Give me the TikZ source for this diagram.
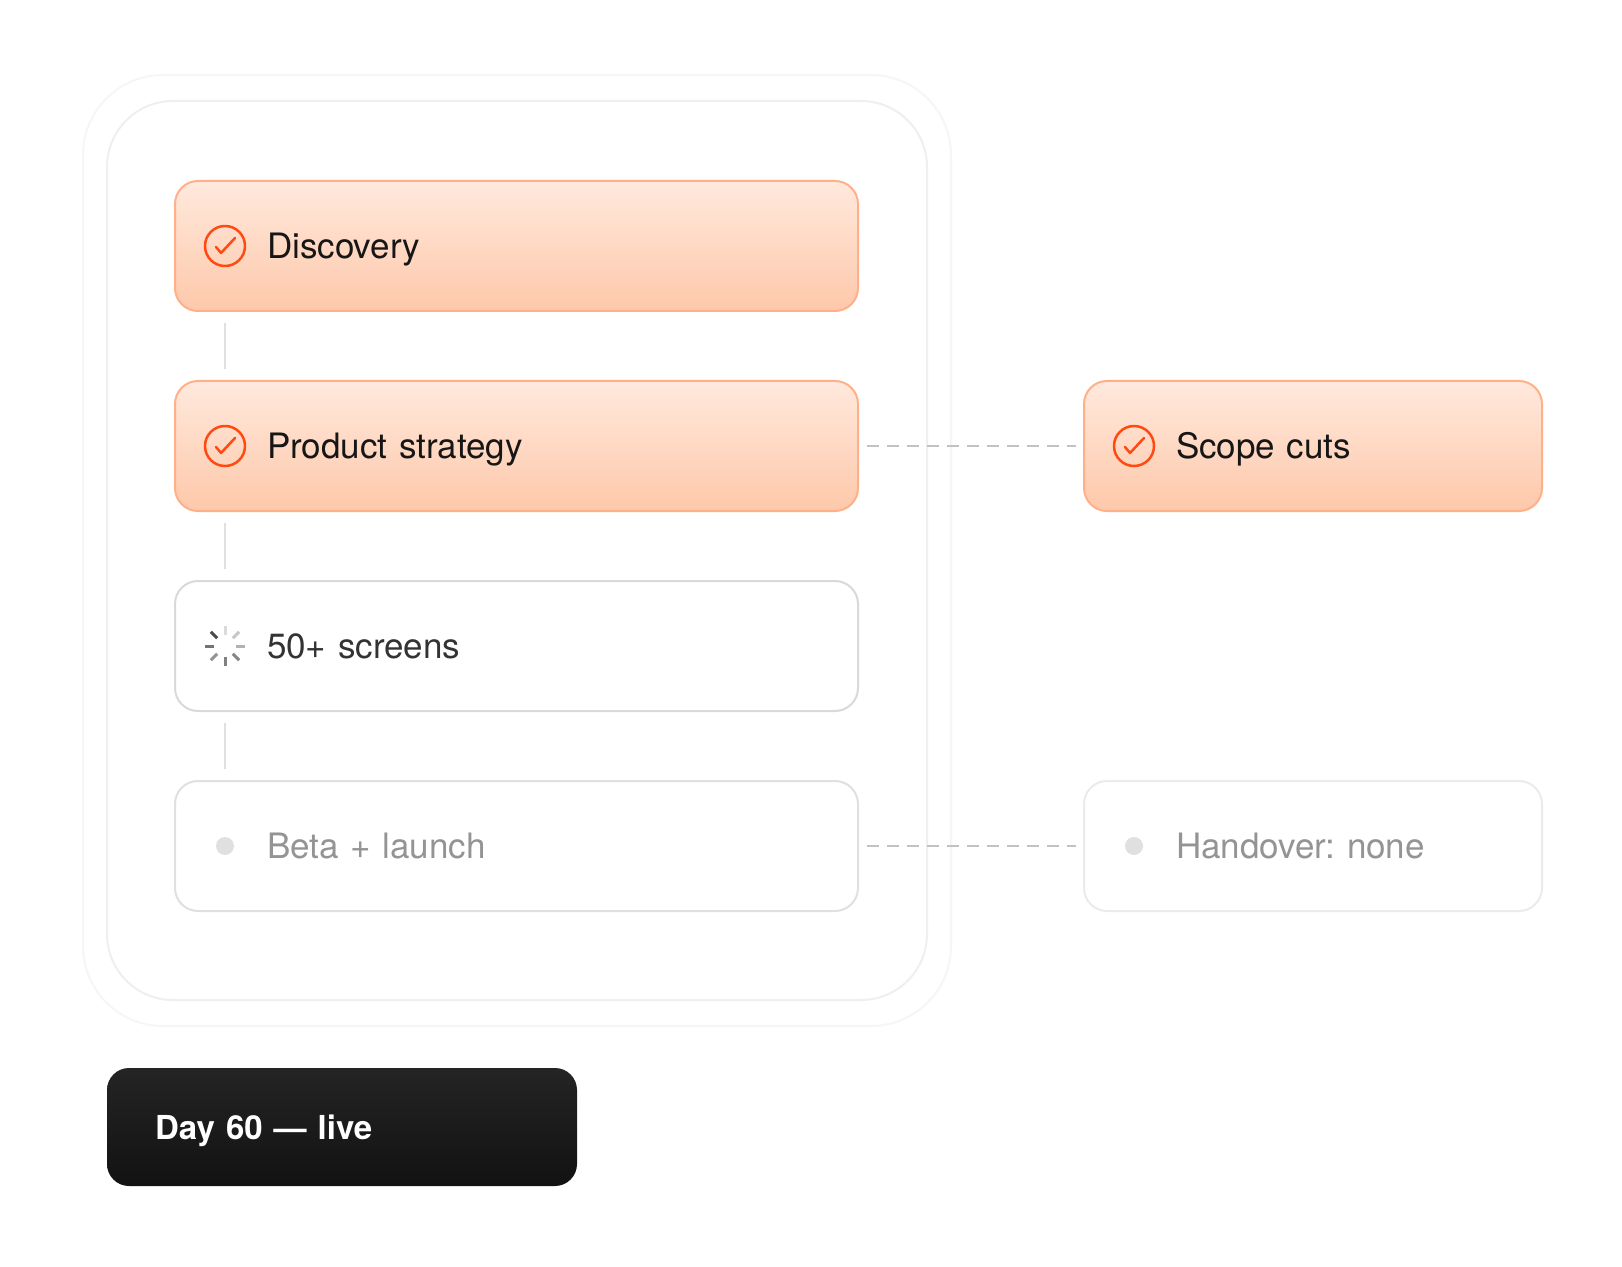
\documentclass[tikz,border=0pt]{standalone}
\usepackage{fontspec}
\setmainfont{TeX Gyre Heros}[WordSpace=0.8]
\frenchspacing
\usetikzlibrary{positioning}
\definecolor{donetop}{HTML}{FFE9DD}
\definecolor{donebot}{HTML}{FEC8AA}
\definecolor{doneline}{HTML}{FFB089}
\definecolor{donetext}{HTML}{161616}
\definecolor{checkred}{HTML}{FF4A12}
\definecolor{linkgray}{HTML}{E0E0E0}
\definecolor{dashgray}{HTML}{C2C2C2}
\definecolor{dotgray}{HTML}{E0E0E0}
\definecolor{frameout}{HTML}{F6F6F6}
\definecolor{framein}{HTML}{EFEFEF}
\definecolor{daytop}{HTML}{242424}
\definecolor{daybot}{HTML}{121212}
\begin{document}
\begin{tikzpicture}[x=0.5pt, y=-0.5pt,
  every node/.style={font=\fontsize{17.5}{21}\selectfont},
  card/.style={rounded corners=11.5pt, line width=1pt, minimum height=65pt, inner xsep=46pt, inner ysep=0pt, align=left, text height=12.6pt, text depth=0pt},
  wide/.style={text width=249.5pt},
  narrow/.style={text width=137pt},
  done/.style={card, draw=doneline, top color=donetop, bottom color=donebot, text=donetext},
  busy/.style={card, draw=black!15, fill=white, text=black!80},
  todo/.style={card, draw=black!12, fill=white, text=black!42},
  later/.style={card, draw=black!8, fill=white, text=black!42},
  frame/.style={line width=1pt},
  link/.style={draw=linkgray, line width=1pt},
  dashlink/.style={draw=dashgray, line width=1.1pt, dash pattern=on 6pt off 4pt},
  checkmark/.style={draw=checkred, line width=1.25pt, line cap=round, line join=round},
  daybox/.style={rounded corners=11pt, top color=daytop, bottom color=daybot, minimum width=235pt, minimum height=59pt, inner xsep=24pt, text width=187pt, align=left, text=white, text height=12.5pt, text depth=0pt, font=\fontsize{16.5}{20}\selectfont\bfseries}
]
\fill[white] (0,0) rectangle (1622,1267);
\useasboundingbox (0,0) rectangle (1622,1267);

% frames
\draw[frame, draw=frameout, rounded corners=40pt] (83,75) rectangle (951,1026);
\draw[frame, draw=framein, rounded corners=33pt] (107,101) rectangle (927,1000);

% steps
\node[done, wide] (disc) at (516.5,246) {Discovery};
\node[done, wide, below=34pt of disc] (strat) {Product strategy};
\node[busy, wide, below=34pt of strat] (screens) {50+ screens};
\node[todo, wide, below=34pt of screens] (beta) {Beta + launch};
\node[done, narrow, right=112pt of strat] (scope) {Scope cuts};
\node[later, narrow, right=112pt of beta] (handover) {Handover: none};

\node[daybox] (live) at (342,1127) {Day 60 — live};

% connectors
\foreach \a/\b in {disc/strat, strat/screens, screens/beta}
  \draw[link] ([shift={(25.5pt,-5.5pt)}]\a.south west) -- ([shift={(25.5pt,5.5pt)}]\b.north west);
\draw[dashlink] ([xshift=4pt]strat.east) -- ([xshift=-3.5pt]scope.west);
\draw[dashlink] ([xshift=4pt]beta.east) -- ([xshift=-3.5pt]handover.west);

% icons
\foreach \n in {disc, strat, scope} {
  \draw[checkmark] ([xshift=25.5pt]\n.west) circle (10pt);
  \draw[checkmark] ([xshift=25.5pt]\n.west) ++(-9,1) -- ++(5,6) -- ++(14,-15);
}
\foreach \a/\g in {135/70, 180/55, 225/42, 270/50, 315/48, 0/30, 45/22, 90/14}
  \draw[black!\g, line width=1.5pt] ([xshift=25.5pt]screens.west) ++(\a:5.5pt) -- ++(\a:4.5pt);
\foreach \n in {beta, handover}
  \fill[dotgray] ([xshift=25.5pt]\n.west) circle (4.5pt);
\end{tikzpicture}
\end{document}
